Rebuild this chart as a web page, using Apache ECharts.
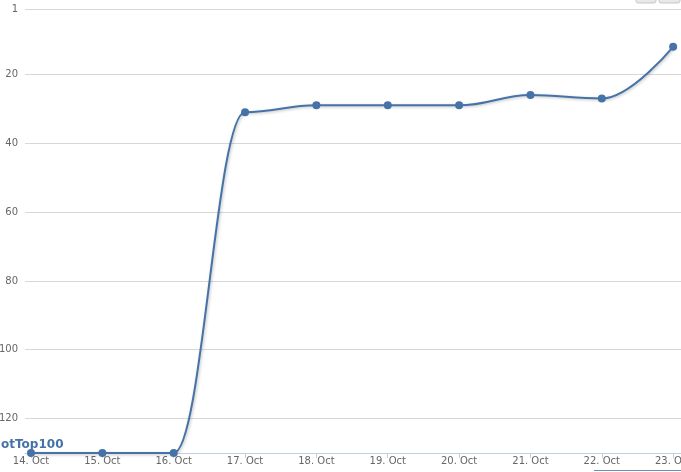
<!DOCTYPE html>
<html>
<head>
<meta charset="utf-8">
<script src="https://cdn.jsdelivr.net/npm/echarts@6/dist/echarts.min.js"></script>
<style>html,body{margin:0;padding:0;background:#fff}#c{width:681px;height:472px}</style>
</head>
<body>
<div id="c"></div>
<script>
const categories = ['14. Oct','15. Oct','16. Oct','17. Oct','18. Oct','19. Oct','20. Oct','21. Oct','22. Oct','23. Oct'];
const ranks = [130, 130, 130, 31, 29, 29, 29, 26, 27, 12];
const yTicks = [1, 20, 40, 60, 80, 100, 120];
const bandLabel = 'NotTop100';

const chart = echarts.init(document.getElementById('c'), null, {renderer: 'canvas'});
const idx = categories.map((_, i) => i);
const fontFam = '"DejaVu Sans", Verdana, sans-serif';
chart.setOption({
  animation: false,
  grid: {left: 25, right: 0, top: 9, bottom: 19, containLabel: false, outerBoundsMode: 'none'},
  xAxis: {
    type: 'value',
    min: -0.084, max: 9.11,
    axisLine: {show: true, lineStyle: {color: '#C0D0E0', width: 1}},
    axisTick: {show: true, customValues: idx, length: 5, inside: false, lineStyle: {color: '#C0D0E0'}},
    axisLabel: {customValues: idx, formatter: v => categories[Math.round(v)], color: '#666', fontSize: 10, fontFamily: fontFam, margin: 3},
    splitLine: {show: false}
  },
  yAxis: {
    type: 'value',
    inverse: true,
    min: 1, max: 130,
    axisLine: {show: false},
    axisTick: {show: false, customValues: yTicks},
    axisLabel: {customValues: yTicks, color: '#666', fontSize: 10, fontFamily: fontFam, margin: 7},
    splitLine: {show: true, lineStyle: {color: '#D8D8D8', width: 1}}
  },
  series: [{
    type: 'line',
    data: ranks.map((r, i) => [i, r]),
    smooth: 0.4,
    smoothMonotone: 'x',
    symbol: 'circle',
    symbolSize: 8,
    itemStyle: {color: '#4572A7'},
    lineStyle: {color: '#4572A7', width: 2, shadowColor: 'rgba(0,0,0,0.25)', shadowBlur: 3, shadowOffsetX: 1, shadowOffsetY: 1},
    clip: false
  }],
  graphic: [
    {type: 'text', x: -9, y: 439, style: {text: bandLabel, fill: '#4572A7', font: 'bold 12px ' + fontFam}, z: 10},
    {type: 'rect', shape: {x: 636, y: -4, width: 20, height: 7, r: 2}, style: {fill: '#E8E8E8', stroke: '#C8C8C8', lineWidth: 1}},
    {type: 'rect', shape: {x: 659, y: -4, width: 21, height: 7, r: 2}, style: {fill: '#E8E8E8', stroke: '#C8C8C8', lineWidth: 1}},
    {type: 'line', shape: {x1: 594, y1: 470.5, x2: 681, y2: 470.5}, style: {stroke: '#6F8DB5', lineWidth: 1}}
  ]
});
</script>
</body>
</html>
